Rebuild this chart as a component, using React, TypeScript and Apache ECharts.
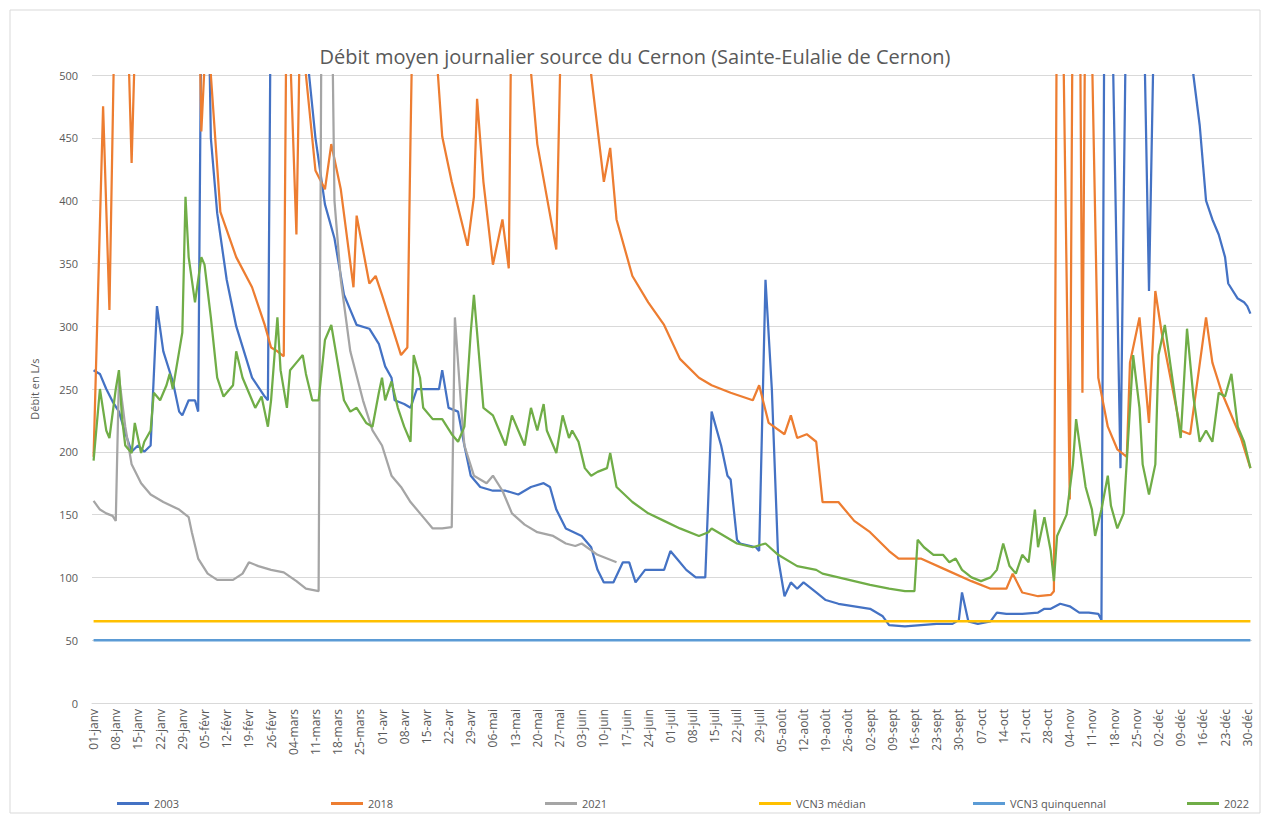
import React, { useEffect, useRef } from "react";
import * as echarts from "echarts";

const monthNames = ["janv", "févr", "mars", "avr", "mai", "juin", "juil", "août", "sept", "oct", "nov", "déc"];
const monthDays = [31, 29, 31, 30, 31, 30, 31, 31, 30, 31, 30, 31];
const categories: string[] = [];
monthNames.forEach((m, i) => {
  for (let d = 1; d <= monthDays[i]; d++) categories.push(String(d).padStart(2, "0") + "-" + m);
});

const titleText = "Débit moyen journalier source du Cernon (Sainte-Eulalie de Cernon)";
const yAxisName = "Débit en L/s";
const names = ["2003", "2018", "2021", "VCN3 médian", "VCN3 quinquennal", "2022"];
const colors = ["#4472C4", "#ED7D31", "#A5A5A5", "#FFC000", "#5B9BD5", "#70AD47"];

// [day index, L/s]
const s2003 = [[0,265],[2,262],[4,250],[6,240],[8,232],[10,215],[12,200],[14,205],[16,200],[18,205],[20,316],[22,280],[25,256],[27,232],[28,229],[30,241],[32,241],[33,232],[34,560],[36,600],[37,450],[39,390],[42,337],[45,300],[50,259],[54,244],[55,241],[56,600],[60,700],[66,600],[68,500],[70,450],[73,397],[76,370],[79,325],[81,313],[83,301],[87,298],[90,286],[92,268],[94,259],[95,241],[98,238],[100,235],[102,250],[105,250],[109,250],[110,265],[112,235],[115,232],[117,205],[119,181],[122,172],[126,169],[130,169],[134,166],[138,172],[142,175],[144,172],[146,154],[149,139],[154,133],[157,124],[159,106],[161,96],[164,96],[167,112],[169,112],[171,96],[174,106],[180,106],[182,121],[184,115],[187,106],[190,100],[193,100],[195,232],[198,205],[200,181],[201,178],[203,130],[204,127],[209,124],[210,121],[212,337],[214,250],[216,115],[218,85],[220,96],[222,91],[224,96],[228,88],[231,82],[235,79],[240,77],[245,75],[249,69],[251,62],[256,61],[261,62],[266,63],[271,63],[273,66],[274,88],[276,65],[279,63],[283,65],[285,72],[288,71],[293,71],[298,72],[300,75],[302,75],[305,79],[308,77],[311,72],[314,72],[317,71],[318,66],[319,600],[321,600],[324,187],[326,600],[329,700],[331,600],[333,328],[335,600],[340,800],[346,600],[347,500],[349,460],[351,400],[353,385],[355,373],[357,355],[358,334],[361,322],[363,319],[364,316],[365,310]];

const s2018 = [[0,196],[3,475],[5,313],[7,600],[10,650],[11,520],[12,430],[13,520],[14,700],[25,800],[33,600],[34,455],[36,560],[37,500],[40,391],[45,355],[50,331],[54,301],[56,283],[58,280],[60,276],[61,600],[62,520],[64,373],[65,520],[66,600],[67,500],[70,424],[73,409],[75,445],[78,409],[82,331],[83,388],[87,334],[89,340],[91,325],[94,301],[97,277],[99,283],[100,450],[101,600],[105,700],[107,560],[110,451],[113,415],[118,364],[120,403],[121,481],[123,415],[126,349],[129,385],[131,346],[132,600],[134,650],[136,560],[140,445],[146,361],[148,600],[152,700],[156,600],[157,500],[161,415],[163,442],[165,385],[170,340],[175,319],[180,301],[185,274],[191,259],[195,253],[201,247],[208,241],[210,253],[213,223],[218,214],[220,229],[222,211],[225,214],[228,208],[230,160],[235,160],[240,145],[245,136],[251,121],[254,115],[261,115],[269,106],[277,97],[283,91],[288,91],[290,103],[293,88],[298,85],[302,86],[303,89],[304,600],[305,650],[306,520],[308,162],[309,600],[311,650],[312,247],[313,600],[314,650],[315,520],[317,259],[320,220],[323,202],[326,196],[327,271],[330,307],[333,223],[335,328],[337,295],[343,217],[346,214],[351,307],[353,271],[356,247],[362,211],[365,187]];

const s2021 = [[0,161],[2,154],[4,151],[6,149],[7,145],[8,260],[10,220],[12,190],[15,175],[18,166],[22,160],[27,154],[30,148],[31,136],[33,115],[36,103],[39,98],[44,98],[47,103],[49,112],[52,109],[56,106],[60,104],[64,97],[67,91],[71,89],[72,600],[74,700],[75,600],[76,400],[78,337],[81,280],[85,241],[88,217],[91,205],[94,181],[97,172],[100,160],[104,148],[107,139],[110,139],[113,140],[114,307],[116,235],[117,205],[120,181],[124,175],[126,181],[129,169],[132,151],[136,142],[140,136],[145,133],[149,127],[152,125],[154,127],[159,118],[165,112]];

const s2022 = [[0,193],[2,250],[4,217],[5,211],[7,250],[8,265],[9,226],[10,205],[12,199],[13,223],[15,199],[16,208],[18,217],[19,247],[21,241],[23,253],[24,262],[25,250],[27,280],[28,295],[29,403],[30,355],[32,319],[34,355],[35,349],[37,307],[39,259],[41,244],[44,253],[45,280],[47,259],[49,247],[51,235],[53,244],[55,220],[56,241],[58,307],[59,265],[61,235],[62,265],[64,271],[66,277],[67,262],[69,241],[71,241],[73,289],[75,301],[77,271],[79,241],[81,232],[83,235],[86,223],[88,220],[90,247],[91,259],[92,241],[94,256],[96,235],[98,220],[100,208],[101,277],[103,259],[104,235],[107,226],[110,226],[113,214],[115,208],[117,220],[119,295],[120,325],[122,265],[123,235],[126,229],[128,217],[130,205],[132,229],[134,217],[136,205],[138,235],[140,217],[142,238],[143,217],[146,199],[148,229],[150,211],[151,217],[153,208],[155,187],[157,181],[159,184],[162,187],[163,199],[165,172],[170,160],[175,151],[180,145],[185,139],[191,133],[194,136],[195,139],[199,133],[203,127],[208,124],[212,127],[216,118],[222,109],[228,106],[230,103],[235,100],[240,97],[245,94],[251,91],[256,89],[259,89],[260,130],[262,124],[265,118],[268,118],[270,112],[272,115],[274,106],[277,100],[280,97],[283,100],[285,106],[287,127],[289,109],[291,103],[293,118],[295,112],[297,154],[298,124],[300,148],[302,121],[303,97],[304,133],[307,150],[309,190],[310,226],[312,190],[313,172],[315,154],[316,133],[318,154],[320,181],[321,157],[323,139],[325,151],[327,235],[328,277],[330,235],[331,190],[333,166],[335,190],[336,277],[338,301],[340,265],[343,211],[345,298],[347,244],[349,208],[351,217],[353,208],[355,247],[357,244],[359,262],[361,220],[363,208],[365,187]];

const vcnMedian = [[0,65],[365,65]];
const vcnQuinq = [[0,50],[365,50]];

const legendLefts = [112, 326, 540, 754, 968, 1182];

export default function App() {
  const ref = useRef<HTMLDivElement>(null);
  useEffect(() => {
    if (!ref.current) return;
    const chart = echarts.init(ref.current, undefined, { renderer: "svg" });
    const font = "Open Sans";
    const txt = { fontFamily: font, fontSize: 11, color: "#595959" };
    const dataSets = [s2003, s2018, s2021, vcnMedian, vcnQuinq, s2022];
    chart.setOption({
      animation: false,
      backgroundColor: "#ffffff",
      title: {
        text: titleText,
        left: "center",
        top: 41,
        textStyle: { fontFamily: font, fontSize: 20, fontWeight: "normal", color: "#595959" },
      },
      grid: { left: 92, right: 18, top: 75, bottom: 120 },
      xAxis: {
        type: "category",
        data: categories,
        boundaryGap: true,
        axisLine: { lineStyle: { color: "#D9D9D9" } },
        axisTick: { show: false },
        axisLabel: { ...txt, fontSize: 12, interval: 6, rotate: 90, margin: 6 },
        splitLine: { show: false },
      },
      yAxis: {
        type: "value",
        min: 0,
        max: 500,
        interval: 50,
        name: yAxisName,
        nameLocation: "middle",
        nameGap: 52,
        nameTextStyle: { ...txt },
        axisLine: { show: false },
        axisTick: { show: false },
        axisLabel: { ...txt, margin: 14 },
        splitLine: { lineStyle: { color: "#D9D9D9", width: 1 } },
      },
      legend: names.map((n, i) => ({
        data: [n],
        left: legendLefts[i],
        top: 793,
        icon: "rect",
        itemWidth: 32,
        itemHeight: 3,
        itemGap: 4,
        textStyle: { ...txt },
      })),
      graphic: [
        {
          type: "rect",
          shape: { x: 10, y: 10, width: 1250, height: 803 },
          style: { fill: "none", stroke: "#D9D9D9", lineWidth: 1 },
          silent: true,
        },
      ],
      series: names.map((n, i) => ({
        name: n,
        type: "line",
        data: dataSets[i],
        symbol: "none",
        showSymbol: false,
        clip: true,
        color: colors[i],
        lineStyle: { color: colors[i], width: i === 3 || i === 4 ? 2.5 : 2.25 },
        z: 2 + i,
      })),
    });
    return () => chart.dispose();
  }, []);
  return (
    <div
      ref={ref}
      style={{ position: "absolute", left: 0, top: 0, width: 1270, height: 823 }}
    />
  );
}
